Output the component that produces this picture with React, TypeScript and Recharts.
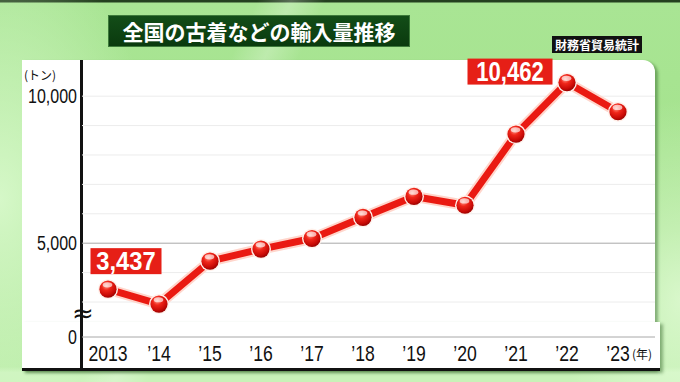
import React from 'react'
import { LineChart, Line, XAxis, YAxis, ReferenceLine } from 'recharts'

// 全国の古着などの輸入量 (トン), 財務省貿易統計
const years = ['2013', '’14', '’15', '’16', '’17', '’18', '’19', '’20', '’21', '’22', '’23']
const imports = [3437, 2930, 4390, 4800, 5160, 5880, 6590, 6290, 8710, 10462, 9470]

// broken axis: the bottom tick stands for 0
const yDomain = [1810, 11230]
const yTicks = [1810, 5000, 10000]
const yTickLabels = ['0', '5,000', '10,000']
const minorGrid = [3000, 4000, 6000, 7000, 8000, 9000, 10000]
const majorGrid = [1810, 5000]
const calloutYears = ['2013', '’22']

const NUM_FONT = "'Liberation Sans', Arial, sans-serif"
const JP_FONT = "'Noto Sans CJK JP', 'Noto Sans', sans-serif"
const NARROW = 0.8

const chartData = years.map((year, i) => ({ year, value: imports[i] }))

function Ball(props: any) {
  const { cx, cy, index } = props
  if (cx == null || cy == null) return null
  return (
    <g key={`ball-${index}`}>
      <circle cx={cx} cy={cy} r={10} fill="#fff0ea" />
      <circle cx={cx} cy={cy} r={8.6} fill="url(#ballFill)" />
      <ellipse cx={cx - 0.5} cy={cy - 4.3} rx={4.8} ry={2.6} fill="#ffffff" opacity={0.65} />
    </g>
  )
}

function Callout(props: any) {
  const { x, y, index } = props
  const row = chartData[index]
  if (!row || !calloutYears.includes(row.year)) return null
  const text = row.value.toLocaleString('en-US')
  const first = index === 0
  const w = first ? 71 : 85
  const cx = first ? x + 18 : x - 57
  const bottom = first ? y - 15 : y + 2
  return (
    <g>
      <rect x={cx - w / 2} y={bottom - 26} width={w} height={26} fill="#e61f17" />
      <text transform={`translate(${cx},${bottom - 4}) scale(${first ? 0.95 : 0.82},1)`} textAnchor="middle"
        fill="#fff" fontSize={first ? 25 : 27} fontWeight="bold" fontFamily={NUM_FONT}>
        {text}
      </text>
    </g>
  )
}

function YearTick(props: any) {
  const { x, y, payload } = props
  const last = payload.value === years[years.length - 1]
  return (
    <g>
      <text transform={`translate(${x},${y + 24}) scale(${NARROW},1)`} textAnchor="middle" fill="#111"
        fontSize={22} fontFamily={NUM_FONT}>
        {payload.value}
      </text>
      {last && (
        <text x={x + 14} y={y + 22} textAnchor="start" fill="#111" fontSize={12} fontFamily={JP_FONT}>
          (年)
        </text>
      )}
    </g>
  )
}

function ValueTick(props: any) {
  const { x, y, payload } = props
  const label = yTickLabels[yTicks.indexOf(payload.value)] ?? String(payload.value)
  return (
    <text transform={`translate(${x},${y + 7}) scale(${NARROW},1)`} textAnchor="end" fill="#111"
      fontSize={20} fontFamily={NUM_FONT}>
      {label}
    </text>
  )
}

export default function App() {
  return (
    <div style={{ position: 'absolute', left: 0, top: 0, width: 680, height: 382, overflow: 'hidden',
      background: 'linear-gradient(180deg, #24401f 0px, #24401f 2px, #a9e594 3px, #a3e28b 60%, #b4eaa0 96%, #c8f2b8 97.5%, #c8f2b8 100%)' }}>
      <div style={{ position: 'absolute', inset: 0,
        background: 'radial-gradient(ellipse 160px 260px at 0px 200px, rgba(230,255,220,0.75), rgba(230,255,220,0) 100%)' }} />
      <div style={{ position: 'absolute', inset: 0,
        background: 'linear-gradient(115deg, rgba(255,255,255,0) 30%, rgba(255,255,255,0.25) 34%, rgba(255,255,255,0) 38%)' }} />
      <div style={{ position: 'absolute', inset: 0,
        background: 'radial-gradient(ellipse 120px 200px at 680px 300px, rgba(235,255,225,0.7), rgba(235,255,225,0) 100%)' }} />

      {/* title */}
      <div style={{ position: 'absolute', left: 108, top: 15, width: 302, height: 32, boxSizing: 'border-box',
        background: 'linear-gradient(180deg, #134d18, #0a3a0e)', border: '1px solid #3d7a3a',
        color: '#fff', fontFamily: JP_FONT, fontWeight: 700, fontSize: 21, lineHeight: '30px', textAlign: 'center' }}>
        全国の古着などの輸入量推移
      </div>
      <div style={{ position: 'absolute', left: 552, top: 36, width: 90, height: 17, background: '#111',
        color: '#fff', fontFamily: JP_FONT, fontWeight: 700, fontSize: 12, lineHeight: '17px', textAlign: 'center' }}>
        財務省貿易統計
      </div>

      {/* plot panel */}
      <div style={{ position: 'absolute', left: 22, top: 60, width: 633, height: 310, background: '#fff',
        borderTopRightRadius: 12, boxShadow: '3px 2px 3px rgba(40,90,30,0.45)' }} />
      <div style={{ position: 'absolute', left: 22, top: 322, width: 638, height: 46, background: '#fff',
        borderBottom: '3px solid #111', boxShadow: '3px 2px 3px rgba(40,90,30,0.45)' }} />
      <div style={{ position: 'absolute', left: 80, top: 60, width: 3, height: 310, background: '#111' }} />

      <div style={{ position: 'absolute', left: 0, top: 0 }}>
        <LineChart width={680} height={382} data={chartData} margin={{ top: 60, right: 25, bottom: 12, left: 0 }}>
          <defs>
            <radialGradient id="ballFill" cx="40%" cy="30%" r="75%">
              <stop offset="0%" stopColor="#ff9a8a" />
              <stop offset="35%" stopColor="#f0261a" />
              <stop offset="75%" stopColor="#c80a06" />
              <stop offset="100%" stopColor="#8c0000" />
            </radialGradient>
          </defs>
          <XAxis dataKey="year" scale="point" padding={{ left: 26, right: 37 }} height={33}
            axisLine={false} tickLine={false} tickSize={0} tickMargin={0} interval={0} tick={<YearTick />} />
          <YAxis type="number" domain={yDomain} ticks={yTicks} width={82} allowDataOverflow
            axisLine={false} tickLine={false} tickSize={0} tickMargin={5} tick={<ValueTick />} />
          {minorGrid.map(v => (
            <ReferenceLine key={`g${v}`} y={v} stroke="#ececec" strokeWidth={1} />
          ))}
          {majorGrid.map(v => (
            <ReferenceLine key={`m${v}`} y={v} stroke="#a8a8a8" strokeWidth={1} />
          ))}
          <Line dataKey="value" stroke="#ffd6cc" strokeWidth={11} dot={false} activeDot={false}
            isAnimationActive={false} strokeLinejoin="round" />
          <Line dataKey="value" stroke="#ea1a12" strokeWidth={7} dot={<Ball />} activeDot={false}
            isAnimationActive={false} strokeLinejoin="round" label={<Callout />} />
        </LineChart>
      </div>

      <div style={{ position: 'absolute', left: 24, top: 66, fontFamily: JP_FONT, fontSize: 12, color: '#111' }}>
        (トン)
      </div>
      <div style={{ position: 'absolute', left: 72, top: 305, fontFamily: "'DejaVu Sans', sans-serif",
        fontSize: 26, lineHeight: '16px', height: 16, color: '#111' }}>
        ≈
      </div>
    </div>
  )
}
